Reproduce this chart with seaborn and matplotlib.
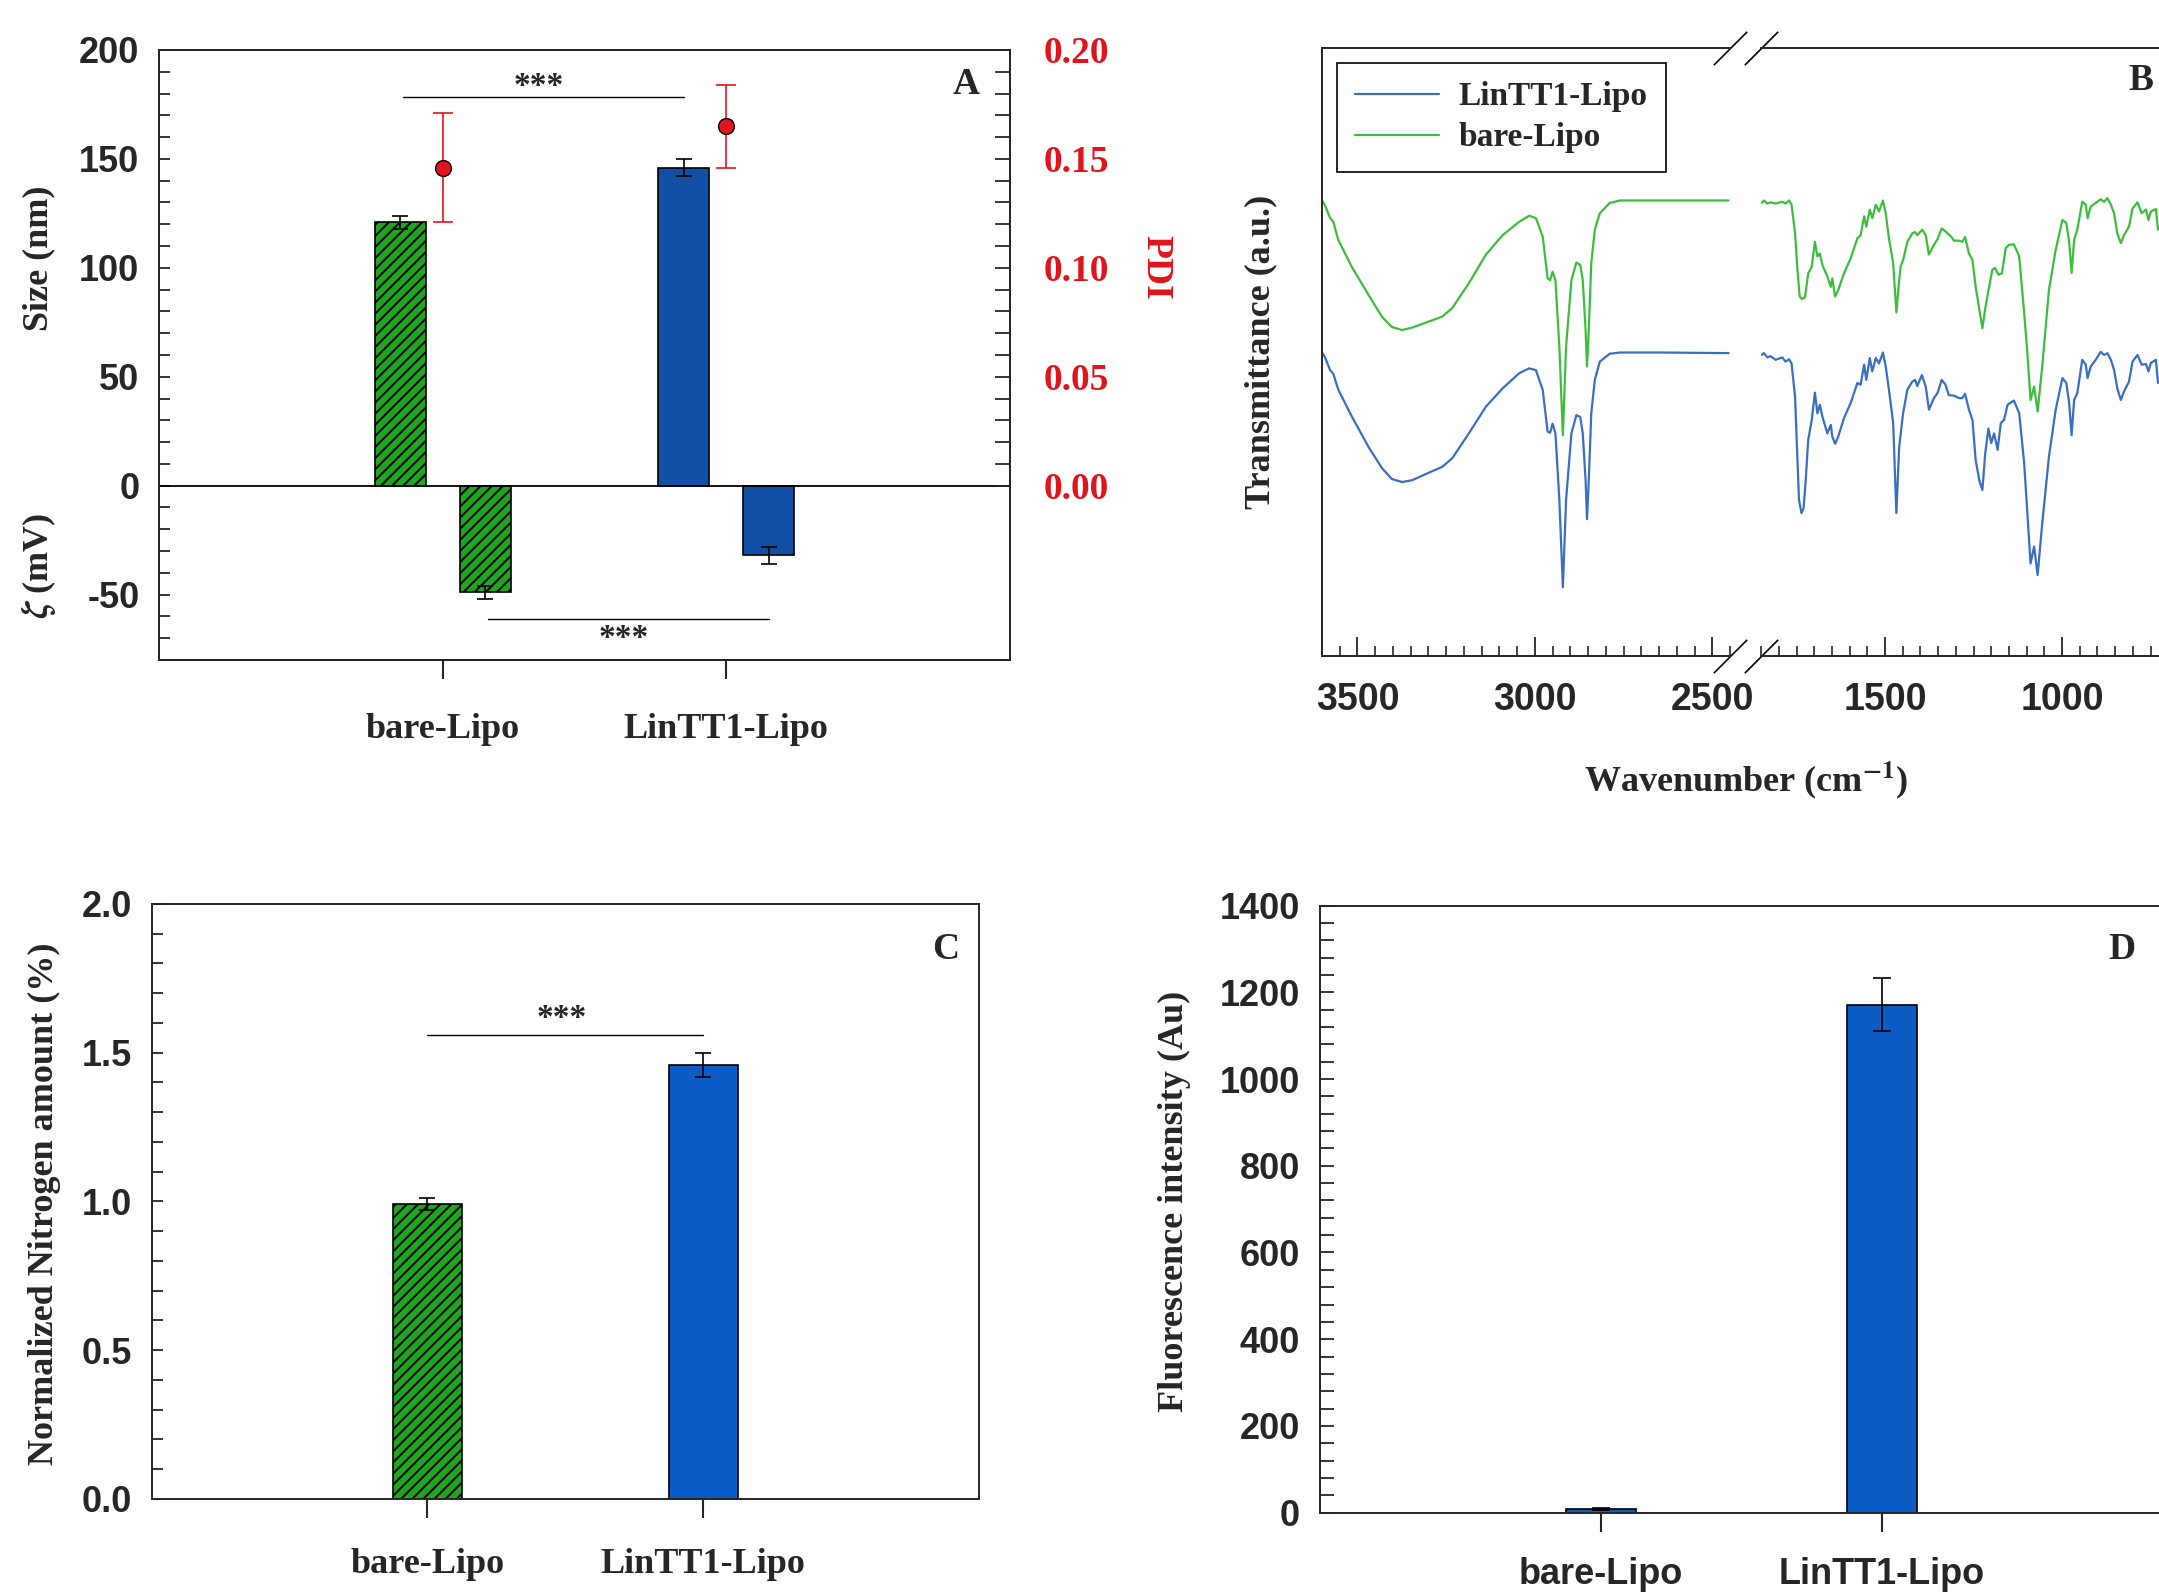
import numpy as np
import pandas as pd
import matplotlib
matplotlib.use('Agg')
import matplotlib.pyplot as plt
from matplotlib.ticker import MultipleLocator, AutoMinorLocator, FixedLocator, FormatStrFormatter
from matplotlib.colors import same_color
import seaborn as sns

# ---------------- data ----------------
groups = ['bare-Lipo', 'LinTT1-Lipo']

# panel A: size / zeta potential / PDI
size_nm = [121, 146]
size_err = [3, 4]
zeta_mv = [-49, -32]
zeta_err = [3, 4]
pdi = [0.146, 0.165]
pdi_err = [0.025, 0.019]

# panel C: nitrogen amount
nitrogen = [0.99, 1.46]
nitrogen_err = [0.02, 0.04]

# panel D: fluorescence
fluor = [8, 1171]
fluor_err = [2, 61]

# panel B: FTIR, high wavenumber part (both curves on the same points)
wn_high = [3600, 3592, 3577, 3568, 3554, 3516, 3469, 3431, 3403, 3374,
           3346, 3308, 3261, 3233, 3186, 3138, 3091, 3044, 3016, 2997,
           2978, 2964, 2957, 2950, 2942, 2931, 2921, 2912, 2897, 2883,
           2872, 2865, 2857, 2853, 2848, 2841, 2831, 2817, 2789, 2760,
           2638, 2454]
bare_high = [74.9, 74.2, 72.0, 71.4, 68.4, 64.0, 59.4, 55.8, 54.1, 53.6,
             54.0, 54.8, 55.8, 57.2, 61.3, 66.0, 69.2, 71.4, 72.4, 72.0,
             69.0, 62.1, 61.8, 63.2, 61.8, 50.9, 36.3, 50.9, 61.8, 64.7,
             64.3, 61.8, 53.6, 47.6, 53.6, 64.6, 70.1, 72.8, 74.5, 74.9,
             74.9, 74.9]
lin_high = [49.9, 49.2, 47.0, 46.4, 43.8, 39.4, 34.4, 30.9, 29.1, 28.6,
            28.9, 29.9, 31.1, 32.5, 36.6, 41.0, 44.0, 46.5, 47.3, 47.0,
            43.8, 36.9, 36.7, 38.2, 36.6, 25.7, 11.3, 25.7, 36.6, 39.6,
            39.3, 36.6, 28.9, 22.5, 28.9, 39.9, 45.4, 48.4, 49.7, 49.9,
            49.9, 49.8]

# panel B: FTIR, fingerprint part
wn_low_bare = [1848, 1842, 1832, 1823, 1809, 1790, 1781, 1771, 1764, 1754,
               1748, 1741, 1734, 1726, 1717, 1707, 1698, 1691, 1684, 1677,
               1663, 1653, 1649, 1641, 1632, 1616, 1597, 1578, 1569, 1559,
               1553, 1543, 1536, 1526, 1517, 1506, 1498, 1489, 1477, 1468,
               1460, 1456, 1449, 1437, 1423, 1415, 1409, 1395, 1385, 1376,
               1362, 1352, 1340, 1329, 1314, 1305,
               1291, 1282, 1274, 1263, 1253, 1244, 1225, 1216, 1206, 1197,
               1189, 1180, 1170, 1159, 1150, 1136, 1121, 1107, 1098, 1089,
               1079, 1069, 1056, 1037, 1018, 999, 988, 980, 973, 966,
               957, 943, 933, 928, 919, 905, 891, 881, 872, 862,
               853, 844, 834, 825, 811, 801, 787, 775, 763, 756,
               749, 735, 729]
bare_low = [74.5, 74.9, 74.4, 74.6, 74.4, 74.7, 74.4, 74.9, 74.2, 69.5,
            64.0, 59.1, 58.7, 59.0, 62.9, 64.0, 68.1, 65.7, 66.2, 64.3,
            62.4, 60.7, 62.1, 59.1, 60.2, 62.9, 65.4, 68.7, 69.2, 72.3,
            70.6, 73.4, 72.0, 74.2, 73.1, 74.9, 72.8, 68.7, 64.6, 56.5,
            61.8, 64.0, 65.1, 68.1, 69.5, 69.7, 69.2, 70.1, 69.2, 66.0,
            67.6, 68.5, 70.3, 69.8, 69.0, 68.3,
            68.3, 68.1, 68.9, 66.2, 65.1, 60.7, 53.9, 57.5, 60.7, 63.5,
            63.8, 62.7, 62.9, 67.1, 67.6, 67.7, 65.7, 56.4, 49.8, 42.1,
            44.3, 40.2, 47.6, 60.2, 66.8, 71.7, 71.2, 68.1, 63.0, 68.4,
            70.1, 74.7, 74.2, 72.0, 73.9, 74.5, 75.1, 74.7, 75.3, 74.2,
            72.8, 69.5, 67.9, 69.2, 70.6, 73.6, 74.6, 72.8, 73.4, 71.7,
            73.1, 73.5, 70.1]
wn_low_lin = [1848, 1842, 1832, 1823, 1809, 1790, 1781, 1771, 1764, 1754,
              1748, 1743, 1736, 1730, 1724, 1717, 1707, 1698, 1691, 1684,
              1677, 1663, 1653, 1649, 1641, 1632, 1616, 1597, 1578, 1569,
              1559, 1553, 1543, 1536, 1526, 1517, 1506, 1498, 1489, 1477,
              1468, 1460, 1449, 1437, 1423, 1415, 1409, 1396, 1385, 1376,
              1362, 1352, 1340, 1329, 1320, 1305, 1291,
              1282, 1274, 1263, 1253, 1244, 1233, 1225, 1217, 1208, 1200,
              1192, 1182, 1173, 1164, 1154, 1136, 1121, 1107, 1098, 1089,
              1079, 1069, 1056, 1037, 1018, 999, 988, 980, 973, 966,
              957, 943, 933, 928, 919, 905, 891, 881, 872, 862,
              853, 844, 834, 825, 811, 801, 787, 775, 763, 756,
              749, 735, 729]
lin_low = [49.5, 49.8, 49.1, 49.3, 48.7, 49.1, 48.4, 48.8, 48.1, 42.6,
           33.3, 25.7, 23.5, 24.3, 28.9, 35.5, 38.8, 43.3, 39.9, 41.3,
           39.4, 36.6, 38.0, 36.1, 34.9, 36.1, 39.1, 41.6, 44.9, 44.6,
           47.9, 45.4, 49.0, 46.8, 49.0, 48.1, 49.9, 47.6, 43.8, 38.3,
           23.5, 34.4, 39.9, 43.8, 45.1, 45.4, 44.4, 46.2, 44.3, 40.5,
           42.4, 43.2, 45.4, 44.6, 42.9, 42.8, 42.4,
           42.4, 43.1, 40.5, 38.8, 32.2, 28.7, 27.3, 33.3, 37.4, 35.0,
           36.6, 33.9, 38.3, 38.8, 41.3, 42.0, 39.9, 31.7, 23.5, 15.2,
           18.0, 13.3, 21.8, 32.8, 40.5, 45.7, 44.9, 41.6, 36.3, 42.1,
           43.2, 48.7, 47.9, 45.7, 47.6, 48.7, 50.0, 49.5, 49.8, 48.7,
           47.0, 44.0, 42.1, 43.5, 45.1, 48.4, 49.5, 47.9, 48.0, 46.8,
           48.2, 48.7, 44.9]

# ---------------- style ----------------
sns.set_style('ticks')
plt.rcParams['font.family'] = ['Liberation Sans', 'DejaVu Sans']
plt.rcParams['font.weight'] = 'bold'
plt.rcParams['mathtext.fontset'] = 'stix'
plt.rcParams['axes.unicode_minus'] = False
plt.rcParams['hatch.linewidth'] = 1.4
plt.rcParams['axes.linewidth'] = 1.4
SERIF = ['Liberation Serif', 'DejaVu Serif']

green = '#1fa51f'
blue_a = '#1250a6'
blue_c = '#0b5cc4'
line_green = '#3dbd3d'
line_blue = '#3a6fbf'
red = '#e0141c'

pos = np.arange(1, len(groups) + 1)

fig = plt.figure(figsize=(21.59, 15.96), dpi=100)


def hatch_green(ax):
    for p in ax.patches:
        if same_color(p.get_facecolor(), green):
            p.set_hatch('///')


def bar_axis_style(ax, x_serif=True, ylen=8, xpad=17):
    ax.set_xlim(0, 3)
    ax.set_xticks(pos)
    if x_serif:
        ax.set_xticklabels(groups, fontfamily=SERIF, fontsize=26)
    else:
        ax.set_xticklabels(groups, fontsize=26)
    ax.tick_params(axis='x', direction='out', length=14, width=1.5, pad=xpad)
    ax.tick_params(axis='y', which='both', direction='in', length=ylen,
                   width=1.3, labelsize=26, pad=14, right=False)
    ax.set_xlabel('')
    ax.set_ylabel('')
    for s in ax.spines.values():
        s.set_visible(True)
        s.set_linewidth(1.4)


# ---------------- panel A ----------------
axA = fig.add_axes([0.0736, 0.5865, 0.3942, 0.3822])
pal_a = {'bare-Lipo': green, 'LinTT1-Lipo': blue_a}
dfA_size = pd.DataFrame({'x': pos - 0.15, 'value': size_nm, 'group': groups})
dfA_zeta = pd.DataFrame({'x': pos + 0.15, 'value': zeta_mv, 'group': groups})
for d in (dfA_size, dfA_zeta):
    sns.barplot(data=d, x='x', y='value', hue='group', palette=pal_a,
                native_scale=True, width=0.18, saturation=1, errorbar=None,
                edgecolor='black', linewidth=1.2, legend=False, ax=axA)
hatch_green(axA)
axA.errorbar(dfA_size['x'], size_nm, yerr=size_err, fmt='none', ecolor='black',
             elinewidth=1.2, capsize=6, capthick=1.2, zorder=4)
axA.errorbar(dfA_zeta['x'], zeta_mv, yerr=zeta_err, fmt='none', ecolor='black',
             elinewidth=1.2, capsize=6, capthick=1.2, zorder=4)
axA.axhline(0, color='black', lw=1.3, zorder=3)
axA.set_ylim(-80, 200)
axA.yaxis.set_major_locator(MultipleLocator(50))
axA.yaxis.set_minor_locator(AutoMinorLocator(5))
bar_axis_style(axA, xpad=24)

# significance marks
axA.plot([0.86, 1.85], [178.5, 178.5], color='black', lw=1)
axA.text(1.34, 183, '***', ha='center', va='center', fontsize=24, fontfamily=SERIF)
axA.plot([1.16, 2.15], [-61.3, -61.3], color='black', lw=1)
axA.text(1.64, -70, '***', ha='center', va='center', fontsize=24, fontfamily=SERIF)

axA.text(-0.141, 0.659, 'Size (nm)', transform=axA.transAxes, rotation=90,
         ha='center', va='center', fontsize=26, fontfamily=SERIF)
axA.text(-0.141, 0.154, r'$\zeta$ (mV)', transform=axA.transAxes, rotation=90,
         ha='center', va='center', fontsize=26, fontfamily=SERIF)
axA.text(0.948, 0.944, 'A', transform=axA.transAxes, ha='center', va='center',
         fontsize=27, fontfamily=SERIF)

# PDI on twin axis
axA2 = axA.twinx()
axA2.errorbar(pos, pdi, yerr=pdi_err, fmt='none', ecolor=red, elinewidth=1.2,
              capsize=7, capthick=1.2, zorder=4)
sns.scatterplot(x=pos, y=pdi, ax=axA2, color=red, edgecolor='black', s=130,
                linewidth=1, zorder=5, legend=False)
axA2.set_ylim(-0.08, 0.2)
pdi_ticks = [0.0, 0.05, 0.10, 0.15, 0.20]
axA2.yaxis.set_major_locator(FixedLocator(pdi_ticks))
axA2.yaxis.set_minor_locator(FixedLocator(np.arange(0, 0.2001, 0.01)))
axA2.set_yticklabels(['%.2f' % t for t in pdi_ticks], fontfamily=SERIF,
                     fontsize=27, color=red)
axA2.tick_params(axis='y', which='both', direction='in', length=11, width=1.3,
                 pad=24)
axA2.set_ylabel('')
axA2.text(1.171, 0.643, 'PDI', transform=axA.transAxes, rotation=270,
          ha='center', va='center', fontsize=27, fontfamily=SERIF, color=red)
axA.set_xlim(0, 3)
axA2.set_xlim(0, 3)

# ---------------- panel B ----------------
axB1 = fig.add_axes([0.6123, 0.589, 0.189, 0.381])
axB2 = fig.add_axes([0.8157, 0.589, 0.1968, 0.381])
sns.lineplot(x=wn_high, y=lin_high, ax=axB1, color=line_blue, lw=1.6,
             sort=False, estimator=None, label='LinTT1-Lipo')
sns.lineplot(x=wn_high, y=bare_high, ax=axB1, color=line_green, lw=1.6,
             sort=False, estimator=None, label='bare-Lipo')
sns.lineplot(x=wn_low_lin, y=lin_low, ax=axB2, color=line_blue, lw=1.6,
             sort=False, estimator=None, legend=False)
sns.lineplot(x=wn_low_bare, y=bare_low, ax=axB2, color=line_green, lw=1.6,
             sort=False, estimator=None, legend=False)
axB1.set_xlim(3600, 2450)
axB2.set_xlim(1850, 650)
for ax in (axB1, axB2):
    ax.set_ylim(0, 100)
    ax.set_yticks([])
    ax.set_xlabel('')
    ax.set_ylabel('')
    ax.xaxis.set_major_locator(MultipleLocator(500))
    ax.xaxis.set_minor_locator(MultipleLocator(50))
    ax.tick_params(axis='x', which='major', direction='in', length=14,
                   width=1.3, labelsize=27, pad=19, top=False)
    ax.tick_params(axis='x', which='minor', direction='in', length=7,
                   width=1.2, top=False)
    for s in ax.spines.values():
        s.set_visible(True)
        s.set_linewidth(1.4)
axB1.spines['right'].set_visible(False)
axB2.spines['left'].set_visible(False)

# axis break marks
for ax, xa in ((axB1, 1.0), (axB2, 0.0)):
    for ya in (0.0, 1.0):
        ax.plot([xa], [ya], transform=ax.transAxes, marker=[(-1, -1), (1, 1)],
                markersize=24, mew=1.2, color='black', clip_on=False)

leg = axB1.legend(loc='upper left', bbox_to_anchor=(0.037, 0.975),
                  borderaxespad=0, frameon=True, fancybox=False,
                  edgecolor='black', framealpha=1,
                  prop={'family': SERIF, 'weight': 'bold', 'size': 24},
                  handlelength=2.5, handletextpad=0.6, labelspacing=0.3,
                  borderpad=0.55)
leg.get_frame().set_linewidth(1.2)
for h in leg.get_lines():
    h.set_linewidth(1.6)

axB1.text(-0.1495, 0.5, 'Transmittance (a.u.)', transform=axB1.transAxes,
          rotation=90, ha='center', va='center', fontsize=26, fontfamily=SERIF)
axB2.text(0.893, 0.947, 'B', transform=axB2.transAxes, ha='center',
          va='center', fontsize=27, fontfamily=SERIF)
fig.text(0.809, 0.511, r'Wavenumber (cm$^{\mathbf{-1}}$)', ha='center',
         va='center', fontsize=26, fontfamily=SERIF)

# ---------------- panel C ----------------
axC = fig.add_axes([0.0702, 0.0608, 0.3832, 0.3728])
pal_c = {'bare-Lipo': green, 'LinTT1-Lipo': blue_c}
dfC = pd.DataFrame({'x': pos, 'value': nitrogen, 'group': groups})
sns.barplot(data=dfC, x='x', y='value', hue='group', palette=pal_c,
            native_scale=True, width=0.25, saturation=1, errorbar=None,
            edgecolor='black', linewidth=1.2, legend=False, ax=axC)
hatch_green(axC)
axC.errorbar(pos, nitrogen, yerr=nitrogen_err, fmt='none', ecolor='black',
             elinewidth=1.2, capsize=6, capthick=1.2, zorder=4)
axC.set_ylim(0, 2)
axC.yaxis.set_major_locator(MultipleLocator(0.5))
axC.yaxis.set_minor_locator(AutoMinorLocator(5))
axC.yaxis.set_major_formatter(FormatStrFormatter('%.1f'))
bar_axis_style(axC, xpad=21)
axC.plot([1, 2], [1.561, 1.561], color='black', lw=1)
axC.text(1.486, 1.615, '***', ha='center', va='center', fontsize=24,
         fontfamily=SERIF)
axC.text(-0.129, 0.497, 'Normalized Nitrogen amount (%)', transform=axC.transAxes,
         rotation=90, ha='center', va='center', fontsize=26, fontfamily=SERIF)
axC.text(0.960, 0.923, 'C', transform=axC.transAxes, ha='center', va='center',
         fontsize=27, fontfamily=SERIF)

# ---------------- panel D ----------------
axD = fig.add_axes([0.6112, 0.0522, 0.3907, 0.3804])
pal_d = {'bare-Lipo': blue_c, 'LinTT1-Lipo': blue_c}
dfD = pd.DataFrame({'x': pos, 'value': fluor, 'group': groups})
sns.barplot(data=dfD, x='x', y='value', hue='group', palette=pal_d,
            native_scale=True, width=0.25, saturation=1, errorbar=None,
            edgecolor='black', linewidth=1.2, legend=False, ax=axD)
axD.errorbar(pos, fluor, yerr=fluor_err, fmt='none', ecolor='black',
             elinewidth=1.2, capsize=6.5, capthick=1.2, zorder=4)
axD.set_ylim(0, 1400)
axD.yaxis.set_major_locator(MultipleLocator(200))
axD.yaxis.set_minor_locator(AutoMinorLocator(5))
bar_axis_style(axD, x_serif=False, ylen=10, xpad=18)
axD.text(-0.1726, 0.512, 'Fluorescence intensity (Au)', transform=axD.transAxes,
         rotation=90, ha='center', va='center', fontsize=26, fontfamily=SERIF)
axD.text(0.951, 0.928, 'D', transform=axD.transAxes, ha='center', va='center',
         fontsize=27, fontfamily=SERIF)

fig.savefig('out.png', dpi=100, facecolor='white')
